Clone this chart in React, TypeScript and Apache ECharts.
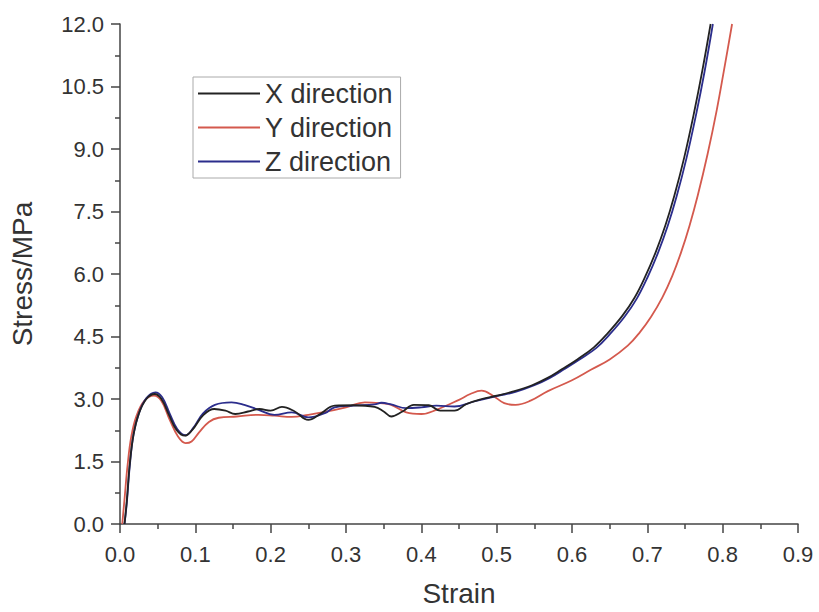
import React, { useEffect, useRef } from "react";
import * as echarts from "echarts";

const seriesNames = ["X direction", "Y direction", "Z direction"];
const seriesColors = ["#222222", "#d4594d", "#2b2d8c"];

const xDirection: number[][] = [
  [0.006, 0], [0.009, 0.55], [0.013, 1.45], [0.018, 2.15], [0.025, 2.65], [0.035, 3.0],
  [0.046, 3.12], [0.055, 3.0], [0.065, 2.62], [0.075, 2.26], [0.086, 2.12], [0.096, 2.26],
  [0.11, 2.6], [0.125, 2.76], [0.14, 2.72], [0.153, 2.64], [0.17, 2.7], [0.185, 2.76],
  [0.2, 2.72], [0.215, 2.81], [0.232, 2.7], [0.25, 2.5], [0.265, 2.63], [0.285, 2.84],
  [0.31, 2.85], [0.338, 2.81], [0.35, 2.7], [0.36, 2.58], [0.375, 2.7], [0.39, 2.86],
  [0.41, 2.85], [0.425, 2.72], [0.444, 2.72], [0.46, 2.88], [0.48, 3.0], [0.5, 3.08],
  [0.52, 3.17], [0.547, 3.33], [0.567, 3.5], [0.587, 3.72], [0.607, 3.95], [0.629, 4.24],
  [0.647, 4.57], [0.667, 5.0], [0.683, 5.43], [0.697, 5.93], [0.711, 6.52], [0.724, 7.17],
  [0.736, 7.89], [0.749, 8.8], [0.762, 9.87], [0.773, 10.88], [0.784, 12.0],
];

const yDirection: number[][] = [
  [0.003, 0], [0.006, 0.6], [0.01, 1.4], [0.015, 2.1], [0.022, 2.6], [0.032, 2.95],
  [0.045, 3.08], [0.055, 2.95], [0.066, 2.5], [0.077, 2.1], [0.087, 1.94], [0.095, 1.98],
  [0.105, 2.2], [0.118, 2.45], [0.131, 2.55], [0.155, 2.58], [0.184, 2.62], [0.205, 2.6],
  [0.228, 2.57], [0.25, 2.62], [0.272, 2.69], [0.3, 2.8], [0.325, 2.92], [0.345, 2.9],
  [0.36, 2.86], [0.38, 2.68], [0.4, 2.64], [0.42, 2.74], [0.45, 2.98], [0.465, 3.12],
  [0.48, 3.2], [0.495, 3.08], [0.51, 2.9], [0.525, 2.86], [0.545, 2.96], [0.568, 3.19],
  [0.6, 3.45], [0.625, 3.7], [0.65, 3.95], [0.674, 4.28], [0.69, 4.6], [0.705, 4.975],
  [0.72, 5.44], [0.733, 5.95], [0.745, 6.53], [0.756, 7.16], [0.767, 7.89], [0.78, 8.88],
  [0.792, 9.92], [0.803, 11.02], [0.8125, 12.0],
];

const zDirection: number[][] = [
  [0.006, 0], [0.009, 0.5], [0.013, 1.4], [0.018, 2.15], [0.025, 2.65], [0.035, 3.02],
  [0.047, 3.16], [0.056, 3.04], [0.066, 2.65], [0.076, 2.28], [0.087, 2.13], [0.097, 2.3],
  [0.11, 2.65], [0.126, 2.86], [0.148, 2.92], [0.165, 2.86], [0.184, 2.74], [0.205, 2.62],
  [0.228, 2.68], [0.25, 2.56], [0.272, 2.66], [0.285, 2.8], [0.31, 2.84], [0.338, 2.87],
  [0.347, 2.91], [0.36, 2.87], [0.38, 2.78], [0.4, 2.8], [0.42, 2.84], [0.444, 2.82],
  [0.47, 2.94], [0.5, 3.07], [0.525, 3.17], [0.55, 3.33], [0.57, 3.5], [0.59, 3.72],
  [0.61, 3.95], [0.632, 4.22], [0.65, 4.55], [0.67, 4.98], [0.686, 5.41], [0.7, 5.91],
  [0.714, 6.5], [0.727, 7.15], [0.739, 7.87], [0.752, 8.78], [0.765, 9.85], [0.776, 10.86],
  [0.787, 12.0],
];

const xTickInterval = 0.1;
const yTickInterval = 1.5;

const FONT = "'Liberation Sans', Arial, Helvetica, sans-serif";

export default function App() {
  const ref = useRef<HTMLDivElement>(null);

  useEffect(() => {
    if (!ref.current) return;
    const chart = echarts.init(ref.current, undefined, { renderer: "svg" });
    const dataSets = [xDirection, yDirection, zDirection];
    const axisCommon = {
      axisLine: { show: true, lineStyle: { color: "#444", width: 1.5 } },
      axisTick: { show: true, length: 9, lineStyle: { color: "#444", width: 1.5 } },
      minorTick: { show: true, splitNumber: 2, length: 5, lineStyle: { color: "#444", width: 1.5 } },
      splitLine: { show: false },
      nameTextStyle: { fontFamily: FONT, fontSize: 28, color: "#333" },
    };
    chart.setOption({
      animation: false,
      backgroundColor: "#ffffff",
      grid: { left: 120, right: 21, top: 24, bottom: 85.5, containLabel: false },
      legend: {
        orient: "vertical",
        left: 193,
        top: 77,
        data: seriesNames,
        icon: "rect",
        itemWidth: 62,
        itemHeight: 2,
        itemGap: 7,
        padding: [3, 8, 3, 5],
        borderColor: "#aaa",
        borderWidth: 1,
        textStyle: { fontFamily: FONT, fontSize: 27, color: "#333", lineHeight: 27 },
      },
      xAxis: {
        type: "value",
        min: 0,
        max: 0.9,
        interval: xTickInterval,
        name: "Strain",
        nameLocation: "middle",
        nameGap: 55,
        ...axisCommon,
        axisLabel: {
          fontFamily: FONT,
          fontSize: 22,
          color: "#333",
          margin: 19,
          formatter: (v: number) => v.toFixed(1),
        },
      },
      yAxis: {
        type: "value",
        min: 0,
        max: 12,
        interval: yTickInterval,
        name: "Stress/MPa",
        nameLocation: "middle",
        nameGap: 84,
        ...axisCommon,
        axisLabel: {
          fontFamily: FONT,
          fontSize: 22,
          color: "#333",
          margin: 16,
          formatter: (v: number) => v.toFixed(1),
        },
      },
      series: seriesNames.map((name, i) => ({
        name,
        type: "line",
        data: dataSets[i],
        smooth: 0.4,
        symbol: "none",
        lineStyle: { color: seriesColors[i], width: 1.8 },
        itemStyle: { color: seriesColors[i] },
        z: i === 1 ? 1 : i === 0 ? 3 : 2,
      })),
    });
    return () => chart.dispose();
  }, []);

  return (
    <div
      ref={ref}
      style={{ position: "fixed", left: 0, top: 0, width: 819, height: 612, background: "#fff" }}
    />
  );
}
